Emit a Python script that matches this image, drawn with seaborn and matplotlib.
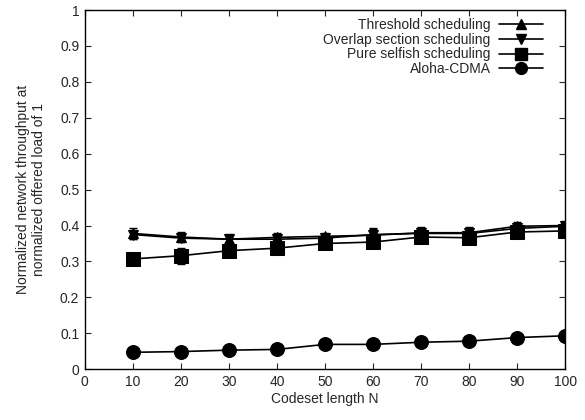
import matplotlib
matplotlib.use("Agg")
import matplotlib.pyplot as plt
import seaborn as sns
import pandas as pd
import numpy as np
from matplotlib.lines import Line2D

sns.set_theme(style="ticks")
plt.rcParams['font.family'] = ['Liberation Sans', 'DejaVu Sans']

codeset = [10, 20, 30, 40, 50, 60, 70, 80, 90, 100]
threshold = [0.378, 0.368, 0.362, 0.367, 0.370, 0.373, 0.380, 0.380, 0.398, 0.400]
threshold_err = [0.015, 0.015, 0.015, 0.013, 0.010, 0.020, 0.016, 0.016, 0.012, 0.014]
overlap = [0.375, 0.365, 0.362, 0.362, 0.365, 0.375, 0.378, 0.378, 0.392, 0.398]
overlap_err = [0.012, 0.012, 0.012, 0.012, 0.010, 0.015, 0.014, 0.014, 0.012, 0.012]
selfish = [0.307, 0.316, 0.330, 0.337, 0.350, 0.354, 0.368, 0.366, 0.382, 0.385]
selfish_err = [0.010, 0.022, 0.008, 0.008, 0.010, 0.008, 0.008, 0.008, 0.008, 0.008]
aloha = [0.047, 0.049, 0.053, 0.055, 0.069, 0.069, 0.075, 0.078, 0.088, 0.093]

labels = ["Threshold scheduling", "Overlap section scheduling",
          "Pure selfish scheduling", "Aloha-CDMA"]
markers = ["^", "v", "s", "o"]
msizes = [7, 7, 10, 10]
leg_msizes = [7, 7, 8.5, 8.5]

df = pd.DataFrame({
    "N": codeset * 4,
    "value": threshold + overlap + selfish + aloha,
    "series": [labels[0]] * 10 + [labels[1]] * 10 + [labels[2]] * 10 + [labels[3]] * 10,
})

fig = plt.figure(figsize=(5.85, 4.2), dpi=100)
ax = fig.add_axes([0.145, 0.121, 0.821, 0.855])

errs = {labels[0]: threshold_err, labels[1]: overlap_err, labels[2]: selfish_err, labels[3]: None}
vals = {labels[0]: threshold, labels[1]: overlap, labels[2]: selfish, labels[3]: aloha}
for lab, m, ms in zip(labels, markers, msizes):
    sub = df[df.series == lab]
    sns.lineplot(data=sub, x="N", y="value", ax=ax, color="black", marker=m,
                 markersize=ms, markeredgecolor="black", linewidth=1.2, label=lab,
                 legend=False)
    if errs[lab] is not None:
        ax.errorbar(codeset, vals[lab], yerr=errs[lab], fmt="none", ecolor="black",
                    elinewidth=1.0, capsize=3, capthick=1.0)

fs = 10
ax.set_xlim(0, 100)
ax.set_ylim(0, 1)
ax.set_xticks(range(0, 101, 10))
ax.set_yticks(np.arange(0, 1.01, 0.1))
ax.set_yticklabels(["0", "0.1", "0.2", "0.3", "0.4", "0.5", "0.6", "0.7", "0.8", "0.9", "1"])
ax.set_xlabel("Codeset length N", fontsize=fs, labelpad=2)
ax.set_ylabel("Normalized network throughput at\nnormalized offered load of 1",
              fontsize=fs, labelpad=10, multialignment="center")
ax.tick_params(direction="in", length=4, width=0.8, labelsize=fs, top=True, right=True, pad=4)
for s in ax.spines.values():
    s.set_linewidth(1.0)
    s.set_color("black")

handles = [Line2D([], [], color="black", marker=m, markersize=ms, linewidth=1.2)
           for m, ms in zip(markers, leg_msizes)]
leg = ax.legend(handles, labels, loc="upper right", bbox_to_anchor=(0.975, 1.005),
                markerfirst=False, frameon=False, fontsize=fs, handlelength=3.2,
                handletextpad=0.6, labelspacing=0.05, borderaxespad=0.3)
for t in leg.get_texts():
    t.set_ha("right")

fig.savefig("out.png", dpi=100)
